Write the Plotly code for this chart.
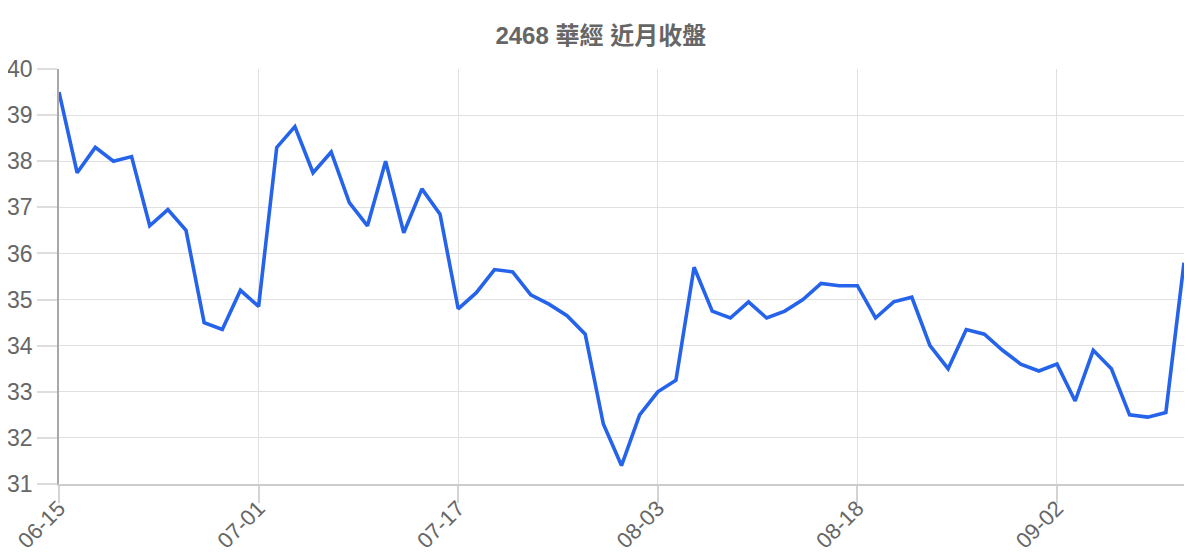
import plotly.graph_objects as go

# 2468 華經 近月收盤 (closing prices, last ~3 months)
dates = ['06-15', '06-16', '06-17', '06-18', '06-19', '06-20', '06-22', '06-23', '06-24', '06-29', '06-30',
         '07-01', '07-02', '07-06', '07-07', '07-08', '07-09', '07-10', '07-13', '07-14', '07-15', '07-16',
         '07-17', '07-20', '07-21', '07-22', '07-23', '07-24', '07-27', '07-28', '07-29', '07-30', '07-31',
         '08-03', '08-04', '08-05', '08-06', '08-07', '08-10', '08-11', '08-12', '08-13', '08-14', '08-17',
         '08-18', '08-19', '08-20', '08-21', '08-24', '08-25', '08-26', '08-27', '08-28', '08-31', '09-01',
         '09-02', '09-03', '09-04', '09-07', '09-08', '09-09', '09-10', '09-11']

close = [39.5, 37.75, 38.3, 38.0, 38.1, 36.6, 36.95, 36.5, 34.5, 34.35, 35.2,
         34.85, 38.3, 38.75, 37.75, 38.2, 37.1, 36.6, 38.0, 36.45, 37.4, 36.85,
         34.8, 35.15, 35.65, 35.6, 35.1, 34.9, 34.65, 34.25, 32.3, 31.4, 32.5,
         33.0, 33.25, 35.7, 34.75, 34.6, 34.95, 34.6, 34.75, 35.0, 35.35, 35.3,
         35.3, 34.6, 34.95, 35.05, 34.0, 33.5, 34.35, 34.25, 33.9, 33.6, 33.45,
         33.6, 32.8, 33.9, 33.5, 32.5, 32.45, 32.55, 35.8]

tick_labels = ['06-15', '07-01', '07-17', '08-03', '08-18', '09-02']

FONT = 'Liberation Sans, Arial, Noto Sans CJK TC, sans-serif'

fig = go.Figure()
fig.add_trace(go.Scatter(x=dates, y=close, mode='lines',
                         line=dict(color='#2563eb', width=3.6),
                         hoverinfo='x+y'))

# page body adds ~8px offset, margins compensate for it
fig.update_layout(
    width=1200, height=560,
    margin=dict(l=51, r=24, t=61, b=84),
    paper_bgcolor='white', plot_bgcolor='white',
    showlegend=False,
    font=dict(family=FONT, color='#666666'),
    title=dict(text='<b>2468 華經 近月收盤</b>', x=0.494, xref='container',
               y=0.95, yanchor='middle', automargin=False,
               font=dict(family=FONT, size=24, color='#666666')),
)

fig.update_xaxes(
    type='category', range=[0, len(dates) - 1], automargin=False,
    tickmode='array', tickvals=tick_labels, ticktext=tick_labels,
    tickangle=-45, tickfont=dict(size=22, color='#666666'),
    ticklabelstandoff=-16,
    showgrid=True, gridcolor='#e0e0e0', gridwidth=1.2,
    ticks='outside', ticklen=17, tickcolor='#d4d4d4', tickwidth=1.5,
    showline=True, linecolor='#cccccc', linewidth=1.5,
    zeroline=False,
)

fig.update_yaxes(
    range=[31, 40], dtick=1, tick0=31, automargin=False,
    tickfont=dict(size=23, color='#666666'),
    showgrid=True, gridcolor='#e0e0e0', gridwidth=1.2,
    ticks='outside', ticklen=20, tickcolor='#dddddd', tickwidth=1.5,
    showline=True, linecolor='#a8a8a8', linewidth=1.5,
    zeroline=False,
)

fig.write_html("out.html")
